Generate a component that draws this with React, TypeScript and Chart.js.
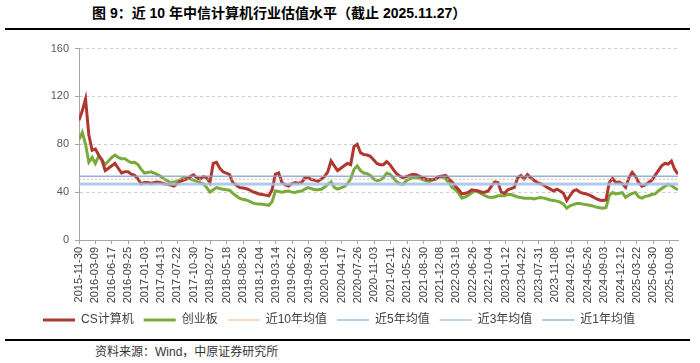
import React, { useEffect, useRef } from "react";
import { Chart, registerables } from "chart.js";

Chart.register(...registerables);

// ---- data ----
const xTickLabels = [
  "2015-11-30", "2016-03-09", "2016-06-17", "2016-09-25", "2017-01-03", "2017-04-13",
  "2017-07-22", "2017-10-30", "2018-02-07", "2018-05-18", "2018-08-26", "2018-12-04",
  "2019-03-14", "2019-06-22", "2019-09-30", "2020-01-08", "2020-04-17", "2020-07-26",
  "2020-11-03", "2021-02-11", "2021-05-22", "2021-08-30", "2021-12-08", "2022-03-18",
  "2022-06-26", "2022-10-04", "2023-01-12", "2023-04-22", "2023-07-31", "2023-11-08",
  "2024-02-16", "2024-05-26", "2024-09-03", "2024-12-12", "2025-03-22", "2025-06-30",
  "2025-10-08",
];
const tickStepDays = 100;
const spanDays = 3650; // 2015-11-30 .. 2025-11-27

const yTicks = [0, 40, 80, 120, 160];

const csComputer = [
  100, 108, 118, 88, 75, 76, 71, 67, 58, 60,
  62, 64, 60, 56, 57, 57, 55, 54, 51, 47,
  48, 48, 47.5, 48, 48.5, 48, 47, 46.5, 46, 45,
  47, 49, 50, 51, 53, 54.5, 52, 51, 53, 52,
  48, 64, 65, 60, 57, 56, 54.7, 48, 46, 44,
  43.5, 43, 42, 40.5, 39.5, 38.5, 38, 37.5, 37, 42,
  55, 56, 48, 46, 45, 47, 48, 47.5, 48, 52,
  52, 50.5, 50, 49, 51, 53, 57, 66, 62, 58,
  60, 62, 64, 63, 78, 80, 73, 71.5, 71, 70,
  67, 64, 63, 63, 65.5, 63, 59, 55.5, 53.5, 52,
  53, 54, 55, 54.5, 53.5, 52, 51, 50.6, 50.6, 51,
  53, 53.5, 54, 51, 48.5, 45, 42, 38.5, 39, 40,
  42, 41.5, 41, 40, 40, 41, 45, 48.5, 48, 40,
  39, 42, 43, 44, 52, 54, 51, 54.7, 52, 50,
  48, 47, 46, 44, 42.5, 41, 42.4, 41, 39, 33,
  37, 41, 42, 40, 39, 38.5, 37.5, 36, 34.5, 33.5,
  33, 33.5, 48, 51.5, 48, 48.5, 47, 44, 52, 56.5,
  53.3, 48, 45, 46, 48, 50, 54, 58, 62, 64,
  63.5, 66, 59, 55,
];

const chiNext = [
  84, 90, 80, 65, 69, 64, 70, 67, 63, 66,
  69, 71, 69, 68, 68, 66, 64.7, 65, 63, 59,
  56, 56.5, 57, 56, 54.7, 53, 51, 49.5, 48, 48.5,
  49, 50.5, 52, 51.5, 51, 50, 49, 48, 47, 44,
  40, 42, 43.8, 43, 42.5, 42, 41.6, 39, 37, 35,
  34, 33.5, 32.5, 31, 30.2, 30, 29.8, 29.5, 29, 32,
  41, 40.5, 40, 40.5, 41, 40, 39.7, 40.5, 41, 42.5,
  43.8, 43, 42, 42, 42.4, 44, 46.5, 48.5, 44, 42.5,
  43.5, 44.5, 47, 51, 59, 62, 58, 56, 55.5, 54,
  51, 49.5, 50, 52, 56, 55, 52, 49, 47, 46.5,
  49.5, 51, 52, 52, 51.5, 50.5, 49.5, 49, 50, 51,
  53, 52.5, 51, 48, 44, 42, 39, 35, 36, 37.5,
  39.5, 41, 40, 38.5, 37, 36, 35.5, 36, 37, 37,
  37, 38, 38, 37, 36, 35.5, 35, 35, 35, 34.3,
  35, 35.5, 35, 34.3, 33.5, 33, 32.5, 31.6, 30, 26.5,
  28.5, 29.5, 30.5, 30.5, 30, 29.5, 29, 28.5, 27.5, 27,
  26.5, 27, 37, 39.7, 38.5, 39, 39.5, 35.6, 37.5, 39,
  39.7, 36, 35, 36.5, 37, 38, 38.5, 41, 43, 45,
  46.5, 45.5, 43.5, 42,
];

const mean10y = 50.9;
const mean5y = 47.3;
const mean3y = 46.1;
const mean1y = 53.3;

const seriesNames = ["CS计算机", "创业板", "近10年均值", "近5年均值", "近3年均值", "近1年均值"];

const FONT = "'Liberation Sans', Arial, 'Noto Sans CJK SC', sans-serif";

function toPoints(values: number[]) {
  const n = values.length;
  return values.map((v, i) => ({ x: (i * spanDays) / (n - 1), y: v }));
}
function flat(v: number) {
  return [{ x: 0, y: v }, { x: spanDays, y: v }];
}

export default function App() {
  const canvasRef = useRef<HTMLCanvasElement | null>(null);

  useEffect(() => {
    if (!canvasRef.current) return;
    Chart.defaults.font.family = FONT;
    const chart = new Chart(canvasRef.current, {
      type: "line",
      data: {
        datasets: [
          {
            label: seriesNames[0],
            data: toPoints(csComputer),
            borderColor: "#B0362F",
            backgroundColor: "#B0362F",
            borderWidth: 3,
            pointRadius: 0,
            order: 2,
          },
          {
            label: seriesNames[1],
            data: toPoints(chiNext),
            borderColor: "#7BAA3C",
            backgroundColor: "#7BAA3C",
            borderWidth: 3,
            pointRadius: 0,
            order: 3,
          },
          {
            label: seriesNames[2],
            data: flat(mean10y),
            borderColor: "#F4B183",
            backgroundColor: "#F4B183",
            borderWidth: 1,
            borderDash: [2, 2],
            pointRadius: 0,
            order: 0,
          },
          {
            label: seriesNames[3],
            data: flat(mean5y),
            borderColor: "rgba(157,190,230,0.75)",
            backgroundColor: "rgba(157,190,230,0.75)",
            borderWidth: 2,
            pointRadius: 0,
            order: 1,
          },
          {
            label: seriesNames[4],
            data: flat(mean3y),
            borderColor: "rgba(170,198,232,0.75)",
            backgroundColor: "rgba(170,198,232,0.75)",
            borderWidth: 2,
            pointRadius: 0,
            order: 1,
          },
          {
            label: seriesNames[5],
            data: flat(mean1y),
            borderColor: "rgba(130,165,215,0.85)",
            backgroundColor: "rgba(130,165,215,0.85)",
            borderWidth: 1.5,
            pointRadius: 0,
            order: 0,
          },
        ],
      },
      options: {
        responsive: false,
        devicePixelRatio: 1,
        animation: false,
        layout: { padding: { top: 10, right: 22, left: 0, bottom: 0 } },
        plugins: {
          title: { display: false },
          tooltip: { enabled: false },
          legend: {
            position: "bottom",
            labels: {
              usePointStyle: true,
              pointStyle: "line",
              pointStyleWidth: 32,
              boxHeight: 12,
              padding: 10,
              color: "#404040",
              font: { size: 12, family: FONT },
              sort: (a: any, b: any) => a.datasetIndex - b.datasetIndex,
            },
          },
        },
        scales: {
          x: {
            type: "linear",
            min: 0,
            max: spanDays,
            afterFit: (s: any) => {
              s.height = 64;
            },
            ticks: {
              stepSize: tickStepDays,
              autoSkip: false,
              includeBounds: false,
              maxRotation: 90,
              minRotation: 90,
              padding: 3,
              color: "#404040",
              font: { size: 11, family: FONT },
              callback: (v: any) => xTickLabels[Math.round(Number(v) / tickStepDays)] ?? "",
            },
            grid: {
              drawOnChartArea: false,
              drawTicks: true,
              tickLength: 4,
              color: "#A6A6A6",
            },
            border: { display: true, color: "#A6A6A6", width: 1 },
          },
          y: {
            min: yTicks[0],
            max: yTicks[yTicks.length - 1],
            afterFit: (s: any) => {
              s.width = 79;
            },
            afterBuildTicks: (s: any) => {
              s.ticks = yTicks.map((v) => ({ value: v }));
            },
            ticks: {
              padding: 6,
              color: "#595959",
              font: { size: 11, family: FONT },
            },
            grid: {
              color: "#CFCFCF",
              tickLength: 4,
              tickColor: "#A6A6A6",
              tickBorderDash: [],
            },
            border: { display: true, color: "#A6A6A6", dash: [3, 3] },
          },
        },
      },
    } as any);
    return () => chart.destroy();
  }, []);

  return (
    <div
      style={{
        position: "fixed",
        left: 0,
        top: 0,
        width: 700,
        height: 363,
        background: "#fff",
        overflow: "hidden",
      }}
    >
      <div
        style={{
          position: "absolute",
          left: 92,
          top: 4,
          fontFamily: FONT,
          fontWeight: "bold",
          fontSize: 14,
          lineHeight: "18px",
          color: "#000",
          whiteSpace: "nowrap",
        }}
      >
        图 9：近 10 年中信计算机行业估值水平（截止 2025.11.27）
      </div>
      <div style={{ position: "absolute", left: 5, top: 28, width: 685, height: 2, background: "#000" }} />
      <canvas
        ref={canvasRef}
        width={700}
        height={300}
        style={{ position: "absolute", left: 0, top: 36, width: 700, height: 300 }}
      />
      <div style={{ position: "absolute", left: 5, top: 339, width: 685, height: 2, background: "#000" }} />
      <div
        style={{
          position: "absolute",
          left: 95,
          top: 345,
          fontFamily: FONT,
          fontSize: 12,
          lineHeight: "14px",
          color: "#333",
          whiteSpace: "nowrap",
        }}
      >
        资料来源：Wind，中原证券研究所
      </div>
    </div>
  );
}
